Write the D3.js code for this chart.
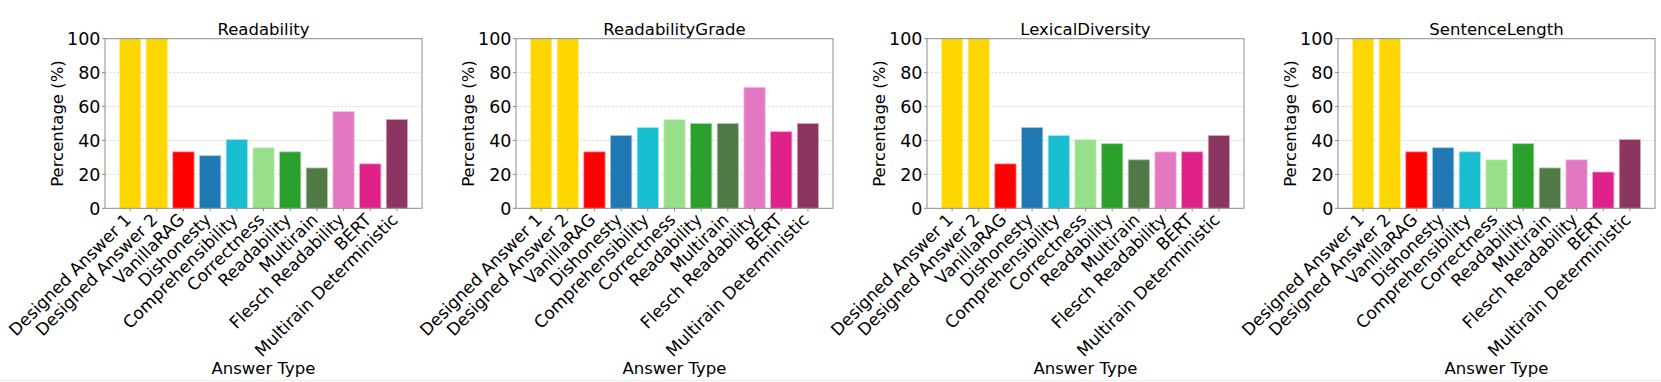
<!DOCTYPE html>
<html>
<head>
<meta charset="utf-8">
<script src="https://cdn.jsdelivr.net/npm/d3@7"></script>
<style>
  body { margin: 0; background: #fff; }
  svg text { font-family: "DejaVu Sans", sans-serif; fill: #000; }
</style>
</head>
<body>
<svg width="1661" height="382"></svg>
<script>
// categories and bar colours
var categories = ["Designed Answer 1", "Designed Answer 2", "VanillaRAG", "Dishonesty",
    "Comprehensibility", "Correctness", "Readability", "Multirain",
    "Flesch Readability", "BERT", "Multirain Deterministic"];
var barColors = ["#ffd700", "#ffd700", "#ff0000", "#1f77b4", "#17becf", "#98df8a",
    "#2ca02c", "#507a45", "#e377c2", "#e0218a", "#8b3560"];

// one panel per metric
var titles = ["Readability", "ReadabilityGrade", "LexicalDiversity", "SentenceLength"];
var readability      = [100, 100, 33.3, 31.0, 40.5, 35.7, 33.3, 23.8, 57.1, 26.2, 52.4];
var readabilityGrade = [100, 100, 33.3, 42.9, 47.6, 52.4, 50.0, 50.0, 71.4, 45.2, 50.0];
var lexicalDiversity = [100, 100, 26.2, 47.6, 42.9, 40.5, 38.1, 28.6, 33.3, 33.3, 42.9];
var sentenceLength   = [100, 100, 33.3, 35.7, 33.3, 28.6, 38.1, 23.8, 28.6, 21.4, 40.5];
var yTicks = [0, 20, 40, 60, 80, 100];

var panels = [readability, readabilityGrade, lexicalDiversity, sentenceLength];

var svg = d3.select("svg");
var fs = "16.5px",      // titles, axis labels
    tickFs = "17.5px",  // y tick labels
    xTickFs = "17px";   // rotated x tick labels

// axes boxes
var lefts = [105, 516, 927, 1338],
    pw = 317,
    plotTop = 38.7,
    plotBottom = 208.3;

var y = d3.scaleLinear().domain([0, 100]).range([plotBottom, plotTop]);

panels.forEach(function (vals, p) {
    var g = svg.append("g");
    var x0 = lefts[p];

    // matplotlib bar positions: width 0.8, 5% margins
    var x = d3.scaleLinear().domain([-0.94, 10.94]).range([x0, x0 + pw]);

    // grid
    g.selectAll("line.grid")
        .data(yTicks.slice(1, -1))
        .enter().append("line")
        .attr("x1", x0).attr("x2", x0 + pw)
        .attr("y1", function (d) { return y(d); })
        .attr("y2", function (d) { return y(d); })
        .attr("stroke", "#d4d4d4")
        .attr("stroke-width", 0.8)
        .attr("stroke-dasharray", "2.5,1.5");

    // bars
    g.selectAll("rect")
        .data(vals)
        .enter().append("rect")
        .attr("x", function (d, i) { return x(i - 0.4); })
        .attr("width", x(0.8) - x(0))
        .attr("y", function (d) { return y(d); })
        .attr("height", function (d) { return y(0) - y(d); })
        .attr("fill", function (d, i) { return barColors[i]; })
        .attr("stroke", function (d, i) { return d3.interpolateRgb(barColors[i], "#fff")(0.6); })
        .attr("stroke-width", 0.8);

    // spines
    g.append("rect")
        .attr("x", x0).attr("y", plotTop)
        .attr("width", pw).attr("height", plotBottom - plotTop)
        .attr("fill", "none")
        .attr("stroke", "#8c8c8c")
        .attr("stroke-width", 1);

    // y ticks
    var yt = g.selectAll("g.yt").data(yTicks).enter().append("g");
    yt.append("line")
        .attr("x1", x0 - 3).attr("x2", x0)
        .attr("y1", function (d) { return y(d); })
        .attr("y2", function (d) { return y(d); })
        .attr("stroke", "#8c8c8c");
    yt.append("text")
        .attr("x", x0 - 4.5)
        .attr("y", function (d) { return y(d); })
        .attr("dy", "0.36em")
        .attr("text-anchor", "end")
        .style("font-size", tickFs)
        .text(function (d) { return d; });

    // x ticks + rotated labels
    var xt = g.selectAll("g.xt").data(categories).enter().append("g");
    xt.append("line")
        .attr("x1", function (d, i) { return x(i); })
        .attr("x2", function (d, i) { return x(i); })
        .attr("y1", plotBottom).attr("y2", plotBottom + 3)
        .attr("stroke", "#8c8c8c");
    xt.append("text")
        .attr("transform", function (d, i) {
            return "translate(" + (x(i) + 2) + "," + (plotBottom + 12.5) + ") rotate(-45)";
        })
        .attr("text-anchor", "end")
        .style("font-size", xTickFs)
        .text(function (d) { return d; });

    // title
    g.append("text")
        .attr("x", x0 + pw / 2).attr("y", 35)
        .attr("text-anchor", "middle")
        .style("font-size", fs)
        .text(titles[p]);

    // axis labels
    g.append("text")
        .attr("transform", "translate(" + (x0 - 42) + "," + ((plotTop + plotBottom) / 2) + ") rotate(-90)")
        .attr("text-anchor", "middle")
        .style("font-size", fs)
        .text("Percentage (%)");

    g.append("text")
        .attr("x", x0 + pw / 2).attr("y", 374)
        .attr("text-anchor", "middle")
        .style("font-size", fs)
        .text("Answer Type");
});

// faint figure border at the bottom
svg.append("line")
    .attr("x1", 0).attr("x2", 1661).attr("y1", 380.5).attr("y2", 380.5)
    .attr("stroke", "#ececec");
</script>
</body>
</html>
